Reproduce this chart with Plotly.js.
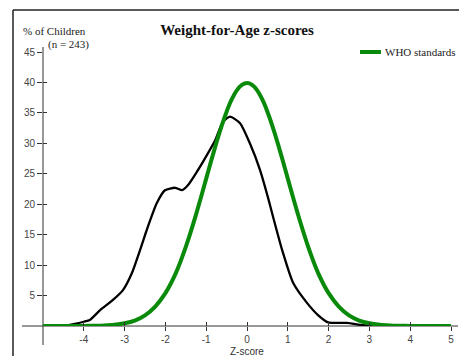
<!DOCTYPE html>
<html>
<head>
<meta charset="utf-8">
<script src="https://cdn.plot.ly/plotly-3.0.1.min.js"></script>
<style>
html,body{margin:0;padding:0;background:#fff;}
#chart{width:459px;height:356px;}
</style>
</head>
<body>
<div id="chart"></div>
<script>
// Sample z-score distribution (n = 243)
const sampleZ = [-5, -4.5, -4.25, -4.0, -3.85, -3.6, -3.3, -3.04, -2.82, -2.62, -2.43, -2.21, -2.01, -1.76, -1.59, -1.45, -1.23, -0.98, -0.78, -0.59, -0.42, -0.17, 0.07, 0.32, 0.51, 0.64, 0.86, 1.13, 1.47, 1.74, 1.99, 2.45, 2.77, 3.0, 3.2];
const samplePct = [0, 0, 0.3, 0.7, 1.0, 2.6, 4.2, 5.9, 8.7, 12.5, 16.3, 20.2, 22.3, 22.7, 22.3, 23.1, 25.3, 28.1, 30.5, 33.5, 34.4, 33.3, 30.0, 25.6, 21.2, 17.9, 12.5, 7.1, 3.8, 1.8, 0.6, 0.5, 0.2, 0.05, 0];

// WHO standards curve
const whoZ = [-5, -4.5, -4, -3.75, -3.5, -3.25, -3, -2.75, -2.5, -2.25, -2, -1.75, -1.5, -1.25, -1, -0.875, -0.75, -0.625, -0.5, -0.375, -0.25, -0.125, 0, 0.125, 0.25, 0.375, 0.5, 0.625, 0.75, 0.875, 1, 1.25, 1.5, 1.75, 2, 2.25, 2.5, 2.75, 3, 3.25, 3.5, 3.75, 4, 4.5, 5];
const whoPct = [0, 0, 0.01, 0.04, 0.09, 0.2, 0.44, 0.9, 1.75, 3.2, 5.4, 8.6, 13.0, 18.3, 24.2, 27.2, 30.1, 32.8, 35.2, 37.2, 38.7, 39.6, 39.9, 39.6, 38.7, 37.2, 35.2, 32.8, 30.1, 27.2, 24.2, 18.3, 13.0, 8.6, 5.4, 3.2, 1.75, 0.9, 0.44, 0.2, 0.09, 0.04, 0.01, 0, 0];

const xTicks = [-4, -3, -2, -1, 0, 1, 2, 3, 4, 5];
const yTicks = [5, 10, 15, 20, 25, 30, 35, 40, 45];

const W = 459, H = 356, L = 43, R = 8, T = 52, B = 30;
const PW = W - L - R, PH = H - T - B;
const px = v => (v - L) / PW;          // pixel x -> paper x
const py = v => (H - B - v) / PH;      // pixel y -> paper y

const tickFont = {family: 'Liberation Sans, Arial, sans-serif', size: 10, color: '#444'};
const axColor = '#333';

const traces = [
  {x: sampleZ, y: samplePct, type: 'scatter', mode: 'lines',
   line: {color: '#000', width: 2.3, shape: 'spline', smoothing: 0.6},
   hoverinfo: 'skip', showlegend: false},
  {x: whoZ, y: whoPct, type: 'scatter', mode: 'lines', name: 'WHO standards',
   line: {color: '#0a8a0a', width: 4, shape: 'spline', smoothing: 0.6},
   hoverinfo: 'skip', showlegend: false},
  {x: [], y: [], xaxis: 'x2', yaxis: 'y2', type: 'scatter', showlegend: false}
];

const layout = {
  width: W, height: H,
  margin: {l: L, r: R, t: T, b: B, pad: 0},
  paper_bgcolor: '#fff', plot_bgcolor: 'rgba(0,0,0,0)',
  showlegend: false,
  title: {text: '<b>Weight-for-Age z-scores</b>',
    font: {family: 'Liberation Serif, Times New Roman, serif', size: 15, color: '#111'},
    x: 237 / W, xanchor: 'center', xref: 'container',
    y: 1 - 30 / H, yanchor: 'middle', yref: 'container'},
  xaxis: {range: [-5, 5], tickvals: xTicks, ticktext: xTicks.map(String),
    ticks: 'outside', ticklen: 4, tickwidth: 1, tickcolor: axColor,
    showline: false, zeroline: false, showgrid: false, tickfont: tickFont, fixedrange: true},
  yaxis: {range: [0, 45], tickvals: yTicks, ticktext: yTicks.map(String),
    ticks: 'outside', ticklen: 5, tickwidth: 1, tickcolor: axColor,
    showline: false, zeroline: false, showgrid: false, tickfont: tickFont, fixedrange: true},
  xaxis2: {range: [-5, 5], overlaying: 'x', anchor: 'y2', tickvals: xTicks,
    ticks: 'inside', ticklen: 4, tickwidth: 1, tickcolor: axColor, showticklabels: false,
    showline: false, zeroline: false, showgrid: false},
  yaxis2: {range: [0, 45], overlaying: 'y', anchor: 'x2', side: 'left', tickvals: yTicks,
    ticks: 'inside', ticklen: 4, tickwidth: 1, tickcolor: axColor, showticklabels: false,
    showline: false, zeroline: false, showgrid: false},
  shapes: [
    // frame
    {type: 'line', xref: 'paper', yref: 'paper', x0: px(13), x1: px(13), y0: py(10), y1: py(H + 2),
     line: {color: '#222', width: 1.5}},
    {type: 'line', xref: 'paper', yref: 'paper', x0: px(13), x1: px(W + 2), y0: py(10), y1: py(10),
     line: {color: '#222', width: 1.5}},
    // axis lines
    {type: 'line', xref: 'paper', yref: 'paper', x0: 0, x1: 0, y0: py(345), y1: py(47),
     line: {color: axColor, width: 1}, layer: 'below'},
    {type: 'line', xref: 'paper', yref: 'paper', x0: px(22), x1: px(458), y0: 0, y1: 0,
     line: {color: axColor, width: 1}, layer: 'below'},
    // legend sample
    {type: 'line', xref: 'paper', yref: 'paper', x0: px(360), x1: px(381), y0: py(52), y1: py(52),
     line: {color: '#0a8a0a', width: 4}}
  ],
  annotations: [
    {text: '% of Children', xref: 'paper', yref: 'paper', x: px(21), y: py(31),
     xanchor: 'left', yanchor: 'middle', showarrow: false,
     font: {family: 'Liberation Serif, Times New Roman, serif', size: 11, color: '#222'}},
    {text: '(n = 243)', xref: 'paper', yref: 'paper', x: px(46), y: py(45),
     xanchor: 'left', yanchor: 'middle', showarrow: false,
     font: {family: 'Liberation Serif, Times New Roman, serif', size: 11, color: '#222'}},
    {text: 'WHO standards', xref: 'paper', yref: 'paper', x: px(383), y: py(52),
     xanchor: 'left', yanchor: 'middle', showarrow: false,
     font: {family: 'Liberation Serif, Times New Roman, serif', size: 11, color: '#222'}},
    {text: 'Z-score', xref: 'paper', yref: 'paper', x: px(247), y: py(351),
     xanchor: 'center', yanchor: 'middle', showarrow: false,
     font: {family: 'Liberation Sans, Arial, sans-serif', size: 10, color: '#333'}}
  ]
};

Plotly.newPlot('chart', traces, layout, {displayModeBar: false, staticPlot: true});
</script>
</body>
</html>
